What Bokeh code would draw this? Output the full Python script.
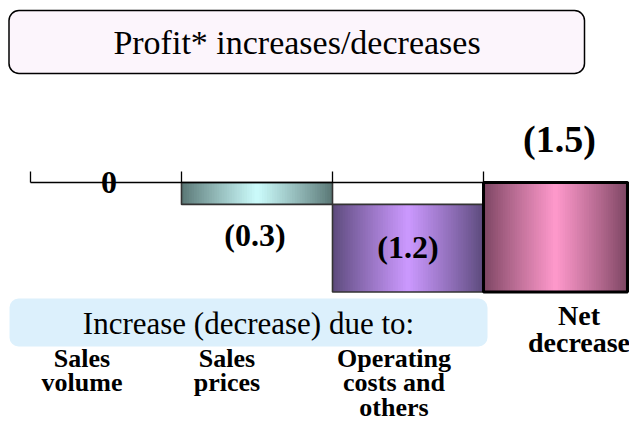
import numpy as np
from bokeh.plotting import figure
from bokeh.models import Range1d
from bokeh.core.properties import value
from bokeh.embed import file_html
from bokeh.resources import INLINE

# ---------------- data ----------------
title_text = "Profit* increases/decreases"
group_text = "Increase (decrease) due to:"
categories = ["Sales\nvolume", "Sales\nprices", "Operating\ncosts and\nothers"]
net_category = "Net\ndecrease"
changes = [0.0, -0.3, -1.2]

# ---------------- style ----------------
FONT = value("Liberation Serif")
edge_colors = ["#587573", "#587573", "#5a497a", "#7a4460"]
center_colors = ["#ccfcfc", "#ccfcfc", "#cc99ff", "#ff99cc"]

W, H = 629, 424
# pixel layout helpers (picture pixels from the top-left corner)
PX0, COLW, PY0, UNIT = 30.0, 151.0, 182.0, 73.0
def X(px):
    return (px - PX0) / COLW
def Y(py):
    return (PY0 - py) / UNIT

p = figure(width=W, height=H, output_backend="svg", toolbar_location=None,
           x_range=Range1d(X(0), X(W)), y_range=Range1d(Y(H), Y(0)),
           min_border=0, min_border_left=0, min_border_right=0,
           min_border_top=0, min_border_bottom=0)
p.xaxis.visible = False
p.yaxis.visible = False
p.xgrid.visible = False
p.ygrid.visible = False
p.outline_line_color = None
p.background_fill_color = "white"
p.border_fill_color = "white"

# ---------------- waterfall values ----------------
net = round(sum(changes), 6)
n = len(changes)
tops, bottoms = [], []
run = 0.0
for c in changes:
    tops.append(max(run, run + c))
    bottoms.append(min(run, run + c))
    run += c
tops.append(max(0.0, net))
bottoms.append(min(0.0, net))
all_vals = changes + [net]
lefts = [float(i) for i in range(n + 1)]
rights = [float(i + 1) for i in range(n + 1)]
rights[-1] = min(rights[-1], X(W - 2))

def mix(c1, c2, t):
    a = np.array([int(c1[i:i + 2], 16) for i in (1, 3, 5)], dtype=float)
    b = np.array([int(c2[i:i + 2], 16) for i in (1, 3, 5)], dtype=float)
    m = a + (b - a) * t
    return "#%02x%02x%02x" % tuple(int(round(v)) for v in m)

# gradient: overlapping stripes (each runs to the bar's right edge, so no seams)
NS = 60
for i in range(n + 1):
    if tops[i] - bottoms[i] <= 0:
        continue
    xs = np.linspace(lefts[i], rights[i], NS + 1)
    mids = (np.arange(NS) + 0.5) / NS
    prof = (1.0 - np.abs(2 * mids - 1)) ** 0.9
    cols = [mix(edge_colors[i], center_colors[i], t) for t in prof]
    p.quad(left=xs[:-1], right=[rights[i]] * NS, top=[tops[i]] * NS,
           bottom=[bottoms[i]] * NS, fill_color=cols, line_color=None)

# outlines
for i in range(n):
    if tops[i] - bottoms[i] > 0:
        p.quad(left=[lefts[i]], right=[rights[i]], top=[tops[i]], bottom=[bottoms[i]],
               fill_color=None, line_color="#333333", line_width=1.6)

# axis line & ticks
p.segment(x0=[0], y0=[0], x1=[X(W)], y1=[0], line_color="black", line_width=1.3)
p.segment(x0=lefts, y0=[0] * (n + 1), x1=lefts, y1=[Y(171)] * (n + 1),
          line_color="black", line_width=1.3)

# net bar outline (thick)
p.quad(left=[lefts[-1]], right=[rights[-1]], top=[tops[-1]], bottom=[bottoms[-1]],
       fill_color=None, line_color="black", line_width=3)

# ---------------- value labels ----------------
def fmt(v):
    if abs(v) < 1e-9:
        return "0"
    return ("(%.1f)" % abs(v)) if v < 0 else ("%.1f" % v)

label_x = [(lefts[i] + rights[i]) / 2 for i in range(n + 1)]
label_dx = [3, -2, 0, 4]
# label placement: on line, below bar, inside bar, above bar
label_y = [0.0, bottoms[1], (tops[2] + bottoms[2]) / 2, tops[3]]
label_dy = [0, -31, 1, 44]
label_size = ["32px", "32px", "32px", "38px"]
for i in range(n + 1):
    p.text(x=[label_x[i]], y=[label_y[i]], text=[fmt(all_vals[i])],
           x_offset=label_dx[i], y_offset=-label_dy[i], text_font=FONT,
           text_font_style="bold", text_font_size=label_size[i], text_align="center",
           text_baseline="middle", text_color="black")

# ---------------- title box ----------------
p.quad(left=[X(8.5)], right=[X(584)], top=[Y(10)], bottom=[Y(73)], border_radius=10,
       fill_color="#fcf5fc", line_color="black", line_width=1.5)
p.text(x=[(X(8) + X(585)) / 2], y=[Y(42)], text=[title_text], text_font=FONT,
       text_font_size="34px", text_align="center", text_baseline="middle", text_color="black")

# ---------------- group box ----------------
p.quad(left=[X(9)], right=[X(487)], top=[Y(298)], bottom=[Y(346)], border_radius=9,
       fill_color="#dcf0fc", line_color=None)
p.text(x=[(X(9) + X(487)) / 2], y=[Y(323)], text=[group_text], text_font=FONT,
       text_font_size="31px", text_align="center", text_baseline="middle", text_color="black")

# ---------------- category labels ----------------
cat_dx = [-24, -30, -14]
p.text(x=[i + 0.5 for i in range(n)], y=[Y(343)] * n, text=categories, x_offset=cat_dx,
       text_font=FONT, text_font_style="bold", text_font_size="26px",
       text_align="center", text_baseline="top", text_line_height=0.86, text_color="black")
p.text(x=[n + 0.5], y=[Y(299)], text=[net_category], x_offset=[20],
       text_font=FONT, text_font_style="bold", text_font_size="28px",
       text_align="center", text_baseline="top", text_line_height=0.9, text_color="black")

open("out.html", "w").write(file_html(p, INLINE))
